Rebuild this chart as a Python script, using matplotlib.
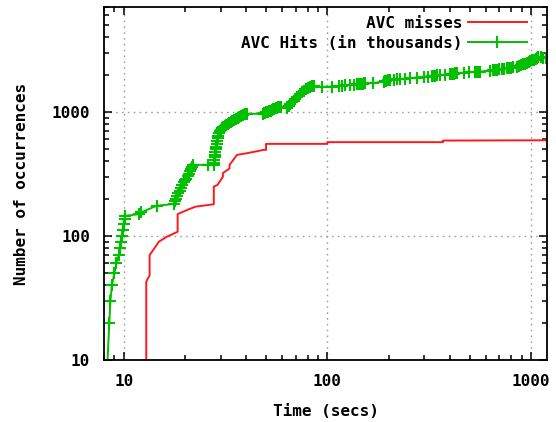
import numpy as np
import matplotlib

matplotlib.use("Agg")
import matplotlib.pyplot as plt
from matplotlib.ticker import FixedLocator, LogLocator, NullFormatter, FixedFormatter

plt.rcParams["font.family"] = ["DejaVu Sans Mono"]
plt.rcParams["font.weight"] = "bold"

# AVC misses (stepped red line)
miss_t = [12.9, 12.9, 13.1, 13.4, 13.4, 14.9, 16.3, 18.4, 18.4, 20.5, 22.5, 27.7,
          27.7, 28.9, 30.7, 30.7, 33.1, 33.1, 36.0, 40.3, 48.7, 50.0, 50.0, 100.0,
          100.0, 370.0, 370.0, 1200.0]
miss_n = [9, 42.8, 45, 48, 70, 90, 98.6, 108, 150, 162, 172, 180,
          250, 258, 300, 321, 350, 374, 450, 464, 494, 494, 552, 552,
          570, 570, 587, 590]

# AVC hits, in thousands (green line with + markers)
hit_t = [8.3, 8.5, 8.6, 8.75, 9.0, 9.2, 9.45, 9.6, 9.75, 9.85, 9.95, 10.0, 10.1, 10.2,
         11.9, 12.2, 14.5,
         17.6, 17.9, 18.1, 18.3, 18.5, 18.8, 19.1, 19.4, 19.7, 20.0, 20.3, 20.6, 20.9,
         21.2, 21.5, 21.7, 22.0, 25.8,
         27.7, 27.8, 27.9, 28.0, 28.1, 28.2, 28.4, 28.5, 28.7, 28.8, 29.0, 29.2, 29.4,
         29.6, 29.9,
         30.3, 30.8, 31.3, 31.8, 32.4, 33.0, 33.6, 34.2, 34.9, 35.6, 36.3, 37.0, 37.8,
         38.6, 39.4, 40.3,
         48.5, 48.8, 49.5, 50.2, 51.0, 51.8, 52.6, 53.4, 54.2, 55.0, 55.8, 56.6, 57.4,
         58.2, 58.9, 63.3,
         64.5, 65.8, 67.0, 68.3, 69.6, 71.0, 72.4, 73.8, 75.3, 76.8, 78.3, 80.0, 81.8,
         83.7, 85.7,
         94.2, 105.5, 113.7, 118.0, 122.5, 129.6, 134.6, 140.0, 143.0, 146.0, 149.0,
         152.0, 154.0, 168.6, 189.0, 192.0, 195.0, 198.0, 200.0,
         203.8, 211.7, 220.0, 228.0, 241.5, 255.5, 275.5, 297.0, 314.0, 326.0, 332.0,
         339.0, 346.0, 359.0, 380.0, 402.0, 410.0, 418.0, 426.0, 433.0,
         467.0, 494.0, 533.0, 545.0, 556.0, 564.0,
         631.0, 650.0, 665.0, 680.0, 700.0, 720.0, 740.0, 760.0, 780.0, 800.0, 820.0,
         853.0, 875.0, 895.0, 915.0, 935.0, 955.0, 975.0, 995.0, 1015.0, 1035.0,
         1055.0, 1075.0, 1090.0, 1120.0, 1153.0, 1190.0]
hit_n = [9, 20, 30, 40, 50, 60, 70, 80, 90, 100, 112, 124, 138, 145,
         150, 155, 175,
         181, 190, 200, 210, 222, 232, 245, 258, 270, 280, 290, 305, 318,
         332, 348, 360, 374, 374,
         374, 390, 410, 430, 450, 475, 500, 525, 550, 580, 610, 640, 670,
         695, 716,
         735, 755, 775, 790, 805, 820, 835, 850, 865, 880, 895, 910, 925,
         940, 955, 965,
         965, 970, 985, 995, 1005, 1015, 1025, 1035, 1045, 1055, 1065, 1075, 1085,
         1095, 1100, 1075,
         1110, 1150, 1190, 1230, 1270, 1310, 1350, 1395, 1440, 1485, 1525, 1560, 1590,
         1610, 1620,
         1590, 1600, 1620, 1630, 1640, 1650, 1660, 1670, 1680, 1685, 1690,
         1695, 1700, 1710, 1750, 1760, 1775, 1790, 1800,
         1811, 1820, 1830, 1840, 1855, 1870, 1890, 1910, 1925, 1935, 1945,
         1955, 1965, 1980, 1995, 2010, 2020, 2030, 2040, 2051,
         2070, 2080, 2095, 2100, 2105, 2110,
         2150, 2160, 2170, 2180, 2195, 2210, 2225, 2240, 2255, 2270, 2290,
         2320, 2350, 2380, 2410, 2440, 2480, 2520, 2560, 2600, 2640,
         2680, 2720, 2780, 2760, 2700, 2720]

x_ticks = [10, 100, 1000]
y_ticks = [10, 100, 1000]

fig = plt.figure(figsize=(5.56, 4.22), dpi=100)
ax = fig.add_axes([104 / 556, 62 / 422, 443 / 556, 353 / 422])
ax.set_xscale("log")
ax.set_yscale("log")

ax.plot(miss_t, miss_n, color="#ff1a1a", linewidth=1.4, label="AVC misses")
ax.plot(hit_t, hit_n, color="#00c000", linewidth=1.4, marker="+", markersize=9,
        markeredgewidth=1.5, label="AVC Hits (in thousands)")

ax.set_xlim(8, 1200)
ax.set_ylim(10, 7000)

ax.xaxis.set_major_locator(FixedLocator(x_ticks))
ax.xaxis.set_major_formatter(FixedFormatter([str(v) for v in x_ticks]))
ax.yaxis.set_major_locator(FixedLocator(y_ticks))
ax.yaxis.set_major_formatter(FixedFormatter([str(v) for v in y_ticks]))
ax.xaxis.set_minor_locator(LogLocator(base=10, subs=np.arange(2, 10)))
ax.yaxis.set_minor_locator(LogLocator(base=10, subs=np.arange(2, 10)))
ax.xaxis.set_minor_formatter(NullFormatter())
ax.yaxis.set_minor_formatter(NullFormatter())

ax.tick_params(which="both", direction="in", top=True, right=True, width=1.1,
               labelsize=11.5, colors="black")
ax.tick_params(which="major", length=6, pad=10)
ax.tick_params(which="minor", length=3.3)
for s in ax.spines.values():
    s.set_linewidth(1.3)

ax.grid(which="major", color="#a0a0a0", linestyle=(0, (1.2, 3)), linewidth=1.0)

ax.set_xlabel("Time (secs)", fontsize=11.5, fontweight="bold", labelpad=11)
ax.set_ylabel("Number of occurrences", fontsize=11.5, fontweight="bold", labelpad=16)

labels = ["AVC misses", "AVC Hits (in thousands)"]
width = max(len(s) for s in labels)
handles, _ = ax.get_legend_handles_labels()
ax.legend(handles, [s.rjust(width) for s in labels], loc="upper right",
          bbox_to_anchor=(423 / 443, 1 - 9 / 353),
          frameon=False, markerfirst=False, numpoints=1, handlelength=3.7,
          handletextpad=0.35, labelspacing=0.3, borderaxespad=0, borderpad=0,
          prop={"size": 11.5, "weight": "bold", "family": "DejaVu Sans Mono"})

fig.savefig("out.png", dpi=100)
